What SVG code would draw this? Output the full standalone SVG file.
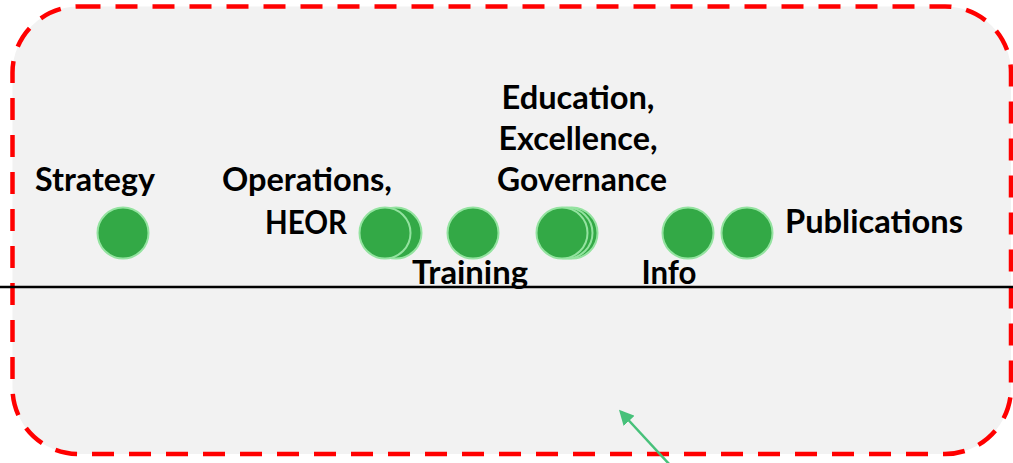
<svg xmlns="http://www.w3.org/2000/svg" width="1013" height="463" viewBox="0 0 1013 463">
<style>
.lbl{font-family:"Lato","Open Sans","Liberation Sans",sans-serif;font-weight:bold;font-size:33px;fill:#000}
.dot{fill:#33a946;stroke:#94e3a0;stroke-width:2}
</style>
<defs>
<marker id="ah" viewBox="0 0 10 10" refX="8" refY="5" markerWidth="6" markerHeight="6" orient="auto" markerUnits="strokeWidth">
<path d="M0,0 L10,5 L0,10 z" fill="#47c17a"/>
</marker>
</defs>
<rect id="frame" x="12.5" y="6.5" width="998.5" height="447.5" rx="66" ry="66" fill="#f2f2f2" stroke="#ff0000" stroke-width="4.5" stroke-dasharray="22 15"/>
<line id="axis" x1="0" y1="287" x2="1013" y2="287" stroke="#000" stroke-width="2.5"/>
<g id="strategy">
<circle class="dot" cx="123" cy="233" r="25.5"/>
<text class="lbl" x="95" y="191" text-anchor="middle" textLength="120" lengthAdjust="spacingAndGlyphs">Strategy</text>
</g>
<g id="operations">
<circle class="dot" cx="396" cy="233" r="25.5"/>
<circle class="dot" cx="385" cy="233" r="25.5"/>
<text class="lbl" x="307" y="191" text-anchor="middle" textLength="170" lengthAdjust="spacingAndGlyphs">Operations,</text>
<text class="lbl" x="306" y="234" text-anchor="middle" textLength="82" lengthAdjust="spacingAndGlyphs">HEOR</text>
</g>
<g id="training">
<circle class="dot" cx="473" cy="233" r="25.5"/>
<text class="lbl" x="470" y="284" text-anchor="middle" textLength="116" lengthAdjust="spacingAndGlyphs">Training</text>
</g>
<g id="education">
<circle class="dot" cx="572" cy="233" r="25.5"/>
<circle class="dot" cx="567" cy="233" r="25.5"/>
<circle class="dot" cx="562" cy="233" r="25.5"/>
<text class="lbl" x="578" y="109" text-anchor="middle" textLength="153" lengthAdjust="spacingAndGlyphs">Education,</text>
<text class="lbl" x="578" y="150" text-anchor="middle" textLength="159" lengthAdjust="spacingAndGlyphs">Excellence,</text>
<text class="lbl" x="582" y="191" text-anchor="middle" textLength="170" lengthAdjust="spacingAndGlyphs">Governance</text>
</g>
<g id="info">
<circle class="dot" cx="688" cy="233" r="25.5"/>
<text class="lbl" x="669" y="284" text-anchor="middle" textLength="55" lengthAdjust="spacingAndGlyphs">Info</text>
</g>
<g id="publications">
<circle class="dot" cx="747" cy="233" r="25.5"/>
<text class="lbl" x="785" y="233" textLength="178" lengthAdjust="spacingAndGlyphs">Publications</text>
</g>
<g id="connectors">
<line x1="670" y1="465" x2="621" y2="412" stroke="#47c17a" stroke-width="2.5" marker-end="url(#ah)"/>
</g>
</svg>
